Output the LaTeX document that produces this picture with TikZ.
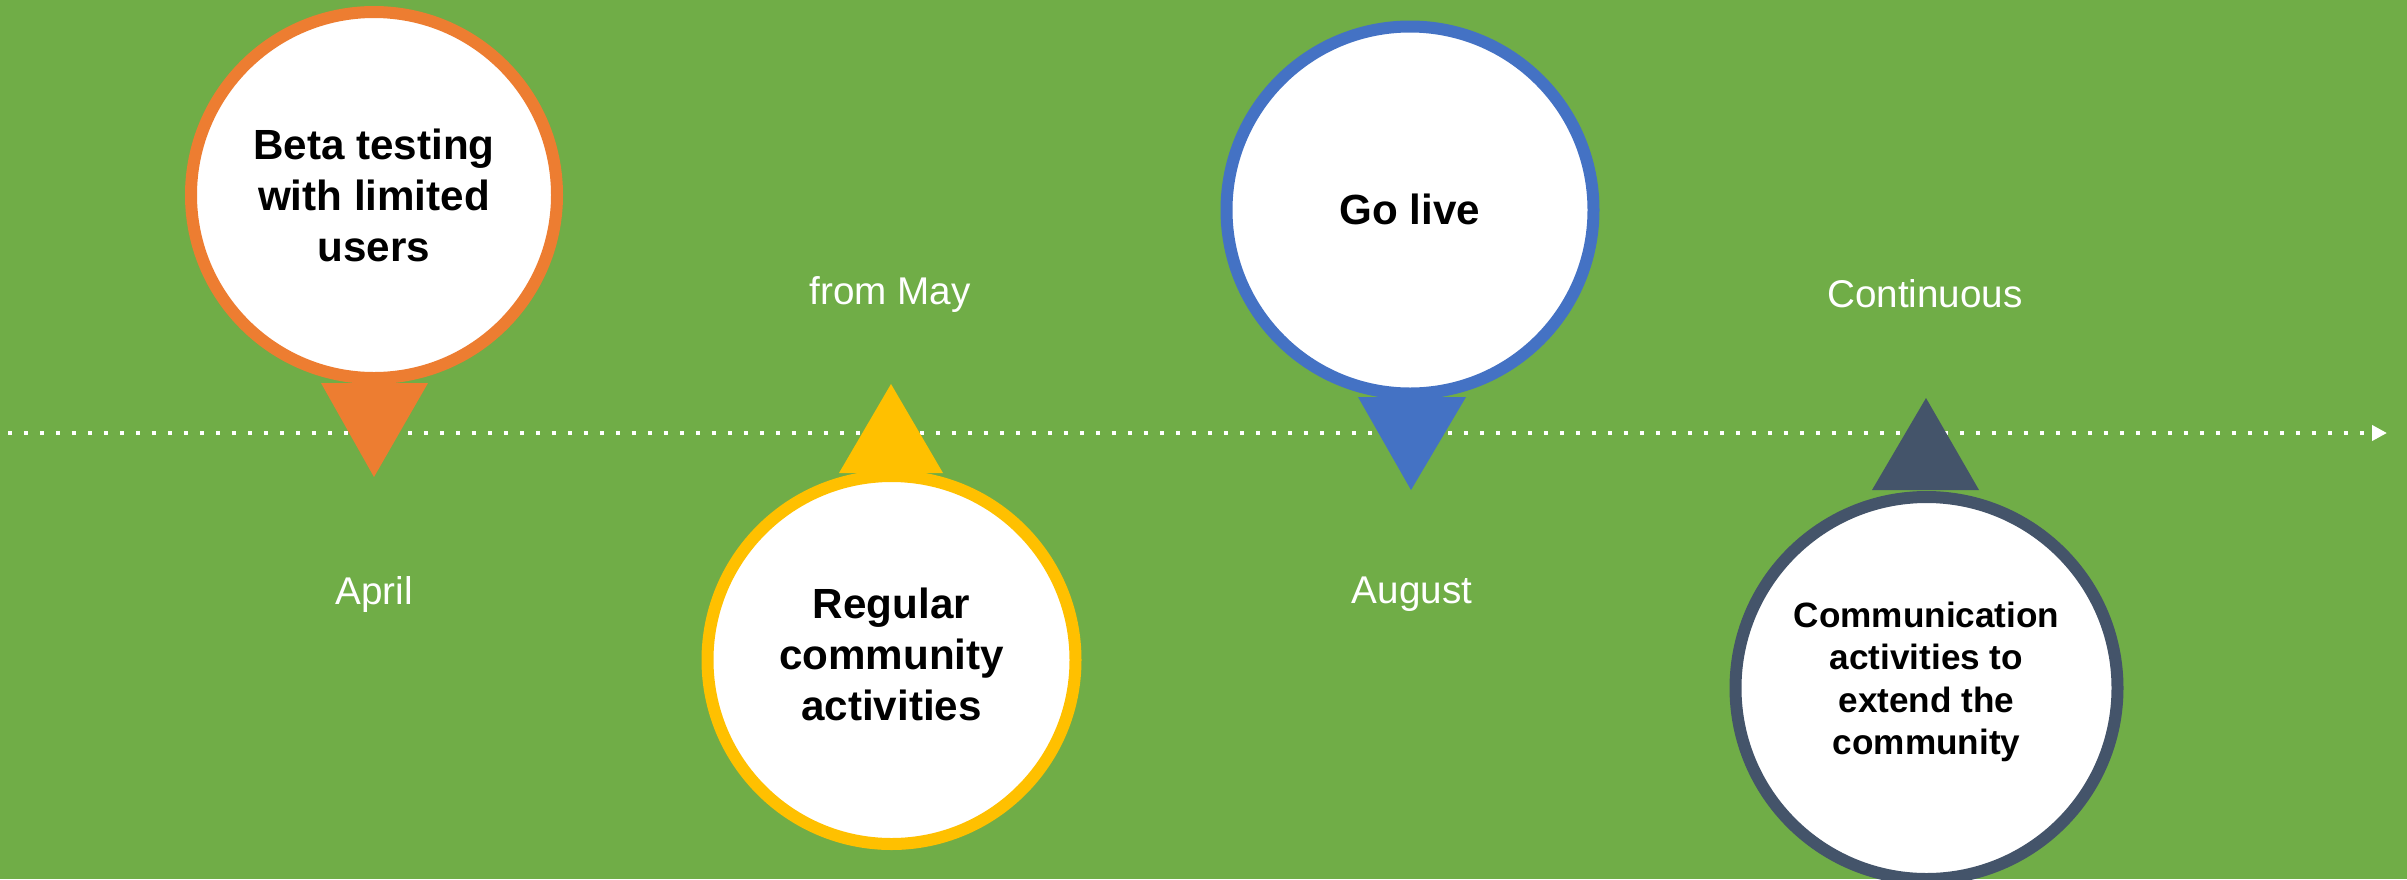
\documentclass[tikz,border=0pt]{standalone}
\usepackage{fontspec}
\setmainfont{Liberation Sans}
\usetikzlibrary{arrows.meta}
\definecolor{bg}{HTML}{70AD47}
\definecolor{corange}{HTML}{ED7D31}
\definecolor{cyellow}{HTML}{FFC000}
\definecolor{cblue}{HTML}{4472C4}
\definecolor{cslate}{HTML}{44546A}
\begin{document}
\begin{tikzpicture}[
  pinbox/.style={circle, fill=white, line width=0.12cm, minimum size=3.66cm, inner sep=0pt},
  pintext/.style={inner sep=0pt, align=center, font=\fontsize{12}{14.5}\selectfont\bfseries, text=black},
  datelabel/.style={text=white, font=\fontsize{11}{13}\selectfont, inner sep=0pt},
  timeline/.style={white, line width=0.04cm, dash pattern=on 0.04cm off 0.12cm, -{Triangle[length=0.15cm,width=0.15cm]}}
]
\fill[bg] (0,0) rectangle (24.07,8.79);
\useasboundingbox (0,0) rectangle (24.07,8.79);
\coordinate (tlstart) at (0.08,4.46);
\coordinate (tlend) at (23.87,4.46);
\draw[timeline] (tlstart) -- (tlend);

% Pin 1
\fill[corange] (3.21,4.96) -- (4.28,4.96) -- (3.74,4.02) -- cycle;
\node[pinbox, draw=corange] (beta) at (3.74,6.84) {};
\node[pintext] (betatxt) at (beta.center) {Beta testing\\with limited\\users};
% Pin 2
\fill[cyellow] (8.39,4.06) -- (9.43,4.06) -- (8.91,4.95) -- cycle;
\node[pinbox, draw=cyellow, minimum size=3.68cm] (regular) at (8.915,2.19) {};
\node[pintext] (regulartxt) at ([yshift=0.06cm]regular.center) {Regular\\community\\activities};
% Pin 3
\fill[cblue] (13.58,4.82) -- (14.66,4.82) -- (14.11,3.89) -- cycle;
\node[pinbox, draw=cblue, minimum size=3.67cm] (golive) at (14.10,6.69) {};
\node[pintext] (golivetxt) at ([yshift=0.01cm]golive.center) {Go live};
% Pin 4
\fill[cslate] (18.72,3.89) -- (19.79,3.89) -- (19.26,4.81) -- cycle;
\node[pinbox, draw=cslate, minimum size=3.82cm] (comm) at (19.265,1.91) {};
\node[pintext, font=\fontsize{10}{12.1}\selectfont\bfseries] (commtxt) at ([yshift=0.06cm]comm.center) {Communication\\activities to\\extend the\\community};

% Date labels
\node[datelabel] (april) at (3.74,2.85) {April};
\node[datelabel] (may) at (8.90,5.84) {from May};
\node[datelabel] (august) at (14.12,2.85) {August};
\node[datelabel] (cont) at (19.25,5.85) {Continuous};
\end{tikzpicture}
\end{document}
